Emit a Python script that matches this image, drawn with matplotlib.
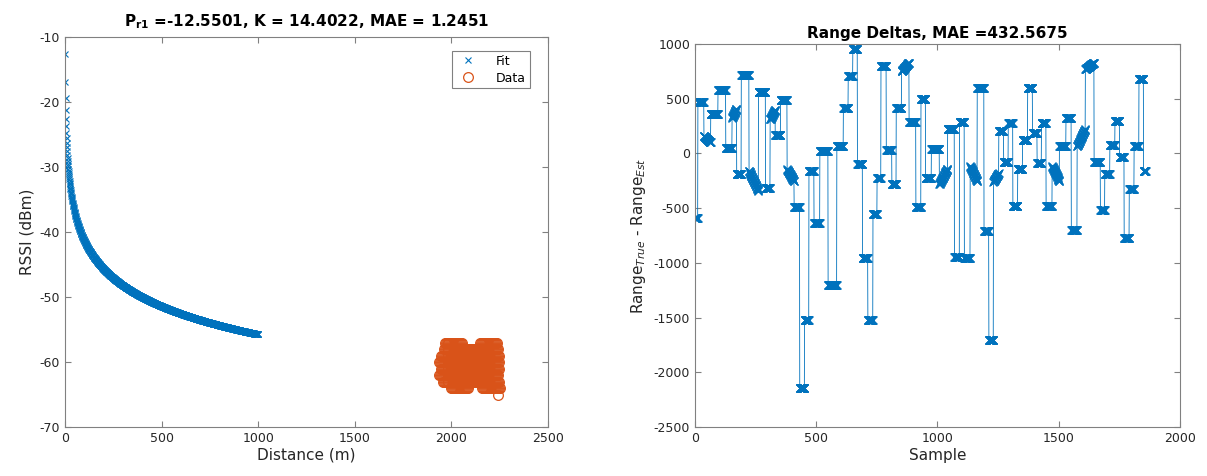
import numpy as np
import matplotlib
matplotlib.use("Agg")
import matplotlib.pyplot as plt

plt.rcParams['font.family'] = ['DejaVu Sans']
plt.rcParams['axes.unicode_minus'] = False

# ---- left panel: path loss fit ----
pr1 = -12.5501
k_fit = 14.4022
mae_fit = 1.2451
fit_dist = np.arange(1, 1001)

# measured RSSI blob: per RSSI level, distance ranges (m) that are covered
data_levels = [-57, -57, -58, -59, -60, -61, -62, -63, -64, -64, -65]
data_from = [1965, 2150, 1960, 1945, 1935, 1945, 1935, 1955, 2000, 2160, 2240]
data_to = [2055, 2235, 2240, 2245, 2245, 2245, 2240, 2245, 2085, 2250, 2240]
data_step = 5

# ---- right panel: range deltas, clusters of samples ----
mae_range = 432.5675
seg_center = [0, 23, 50, 80, 110, 143, 163, 180, 202, 243, 281, 301, 318, 343,
              363, 397, 421, 443, 460, 480, 501, 529, 568, 602, 621, 642, 660,
              680, 701, 724, 743, 759, 775, 802, 821, 838, 865, 900, 921, 942,
              960, 990, 1025, 1059, 1080, 1101, 1121, 1148, 1180, 1204, 1220,
              1242, 1263, 1282, 1302, 1320, 1341, 1361, 1382, 1401, 1420, 1438,
              1458, 1488, 1518, 1541, 1562, 1589, 1630, 1662, 1681, 1699, 1723,
              1741, 1761, 1779, 1802, 1820, 1842, 1858]
seg_start = [-590, 470, 160, 357, 575, 50, 326, -186, 716, -160, 560, -314, 310,
             165, 488, -146, -488, -2143, -1518, -162, -634, 21, -1204, 67, 418,
             708, 951, -100, -959, -1525, -558, -222, 799, 27, -278, 418, 750,
             287, -491, 494, -222, 36, -280, 220, -948, 287, -954, -116, 595,
             -710, -1701, -260, 204, -79, 281, -482, -140, 122, 601, 189, -85,
             281, -482, -116, 67, 320, -704, 67, 770, -76, -521, -192, 76, 296,
             -33, -771, -329, 67, 677, -162]
seg_end = [-590, 470, 100, 357, 575, 50, 409, -186, 716, -340, 560, -314, 400,
           165, 488, -253, -488, -2143, -1518, -162, -634, 21, -1204, 67, 418,
           708, 951, -100, -959, -1525, -558, -222, 799, 27, -278, 418, 830,
           287, -491, 494, -222, 36, -140, 220, -948, 287, -954, -253, 595,
           -710, -1701, -180, 204, -79, 281, -482, -140, 122, 601, 189, -85,
           281, -482, -253, 67, 320, -704, 220, 830, -76, -521, -192, 76, 296,
           -33, -771, -329, 67, 677, -162]

blue = '#0072BD'
orange = '#D95319'
frame = '#262626'

# build sample series
centers = np.array(seg_center, dtype=float)
bounds = np.concatenate([[0], np.ceil((centers[:-1] + centers[1:]) / 2), [centers[-1] + 1]]).astype(int)
delta = []
for i in range(len(seg_center)):
    n = bounds[i + 1] - bounds[i]
    delta.append(np.linspace(seg_start[i], seg_end[i], n))
delta = np.concatenate(delta)
samples = np.arange(len(delta))

dist_pts = []
rssi_pts = []
for lv, a, b in zip(data_levels, data_from, data_to):
    d = np.arange(a, b + 1, data_step)
    dist_pts.append(d)
    rssi_pts.append(np.full(len(d), lv))
dist_pts = np.concatenate(dist_pts)
rssi_pts = np.concatenate(rssi_pts)

fig = plt.figure(figsize=(12.07, 4.76), dpi=100)
ax1 = fig.add_axes([0.0539, 0.1029, 0.4001, 0.8194])
ax2 = fig.add_axes([0.5758, 0.1029, 0.4018, 0.8047])


def style(ax):
    for s in ax.spines.values():
        s.set_color('#808080')
        s.set_linewidth(0.8)
    ax.tick_params(direction='in', top=True, right=True, labelsize=9,
                   colors='#808080', labelcolor=frame, length=4, width=0.8)


ax1.plot(fit_dist, pr1 - k_fit * np.log10(fit_dist), 'x', color=blue,
         markersize=5, markeredgewidth=0.8, label='Fit')
ax1.plot(dist_pts, rssi_pts, 'o', color=orange, markerfacecolor='none',
         markersize=7, markeredgewidth=0.9, label='Data')
ax1.set_xlim(0, 2500)
ax1.set_ylim(-70, -10)
ax1.set_xticks(np.arange(0, 2501, 500))
ax1.set_yticks(np.arange(-70, -9, 10))
ax1.set_xlabel('Distance (m)', fontsize=11, color=frame, labelpad=2)
ax1.set_ylabel('RSSI (dBm)', fontsize=11, color=frame, labelpad=4)
ax1.set_title('P$_{\\mathbf{r1}}$ =-12.5501, K = 14.4022, MAE = 1.2451',
              fontsize=11, fontweight='bold', pad=8)
style(ax1)
leg = ax1.legend(loc='upper right', bbox_to_anchor=(0.975, 0.98), fontsize=9,
                 fancybox=False, framealpha=1, edgecolor='#808080',
                 borderpad=0.3, handletextpad=1.2, labelspacing=0.3)
leg.get_frame().set_linewidth(0.8)

ax2.plot(samples, delta, '-x', color=blue, linewidth=0.6, markersize=6,
         markeredgewidth=1.0)
ax2.set_xlim(0, 2000)
ax2.set_ylim(-2500, 1000)
ax2.set_xticks(np.arange(0, 2001, 500))
ax2.set_yticks(np.arange(-2500, 1001, 500))
ax2.set_xlabel('Sample', fontsize=11, color=frame, labelpad=2)
ax2.set_ylabel('Range$_{True}$ - Range$_{Est}$', fontsize=11, color=frame, labelpad=4)
ax2.set_title('Range Deltas, MAE =432.5675', fontsize=11, fontweight='bold', pad=4)
style(ax2)

fig.savefig('out.png', dpi=100)
